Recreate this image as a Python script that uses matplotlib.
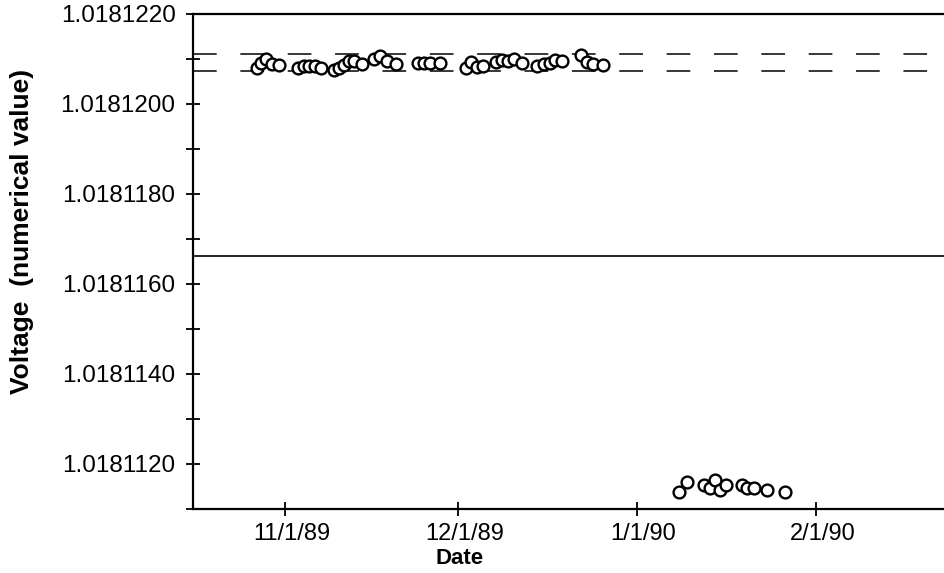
import numpy as np
import pandas as pd
import matplotlib
matplotlib.use("Agg")
import matplotlib.pyplot as plt
import matplotlib.transforms as mtransforms
from matplotlib.ticker import MultipleLocator, FormatStrFormatter

plt.rcParams['font.family'] = ['Liberation Sans', 'DejaVu Sans']

# readings before the jump (Oct-Dec 1989)
dates_1989 = ["1989-10-27 01:00", "1989-10-27 18:00", "1989-10-28 17:00", "1989-10-29 18:00",
              "1989-10-30 21:00", "1989-11-03 05:00", "1989-11-04 04:00", "1989-11-05 02:00",
              "1989-11-06 03:00", "1989-11-07 06:00", "1989-11-09 10:00", "1989-11-10 06:00",
              "1989-11-11 03:00", "1989-11-12 00:00", "1989-11-12 21:00", "1989-11-14 05:00",
              "1989-11-16 08:00", "1989-11-17 09:00", "1989-11-18 13:00", "1989-11-20 06:00",
              "1989-11-24 00:00", "1989-11-25 02:00", "1989-11-26 01:00", "1989-11-27 19:00",
              "1989-12-02 07:00", "1989-12-03 06:00", "1989-12-04 05:00", "1989-12-05 06:00",
              "1989-12-07 14:00", "1989-12-08 12:00", "1989-12-09 13:00", "1989-12-10 14:00",
              "1989-12-11 23:00", "1989-12-14 14:00", "1989-12-15 19:00", "1989-12-16 20:00",
              "1989-12-17 19:00", "1989-12-19 00:00", "1989-12-22 07:00", "1989-12-23 06:00",
              "1989-12-24 08:00", "1989-12-25 23:00"]
volts_1989 = [1.01812080, 1.01812091, 1.01812099, 1.01812088, 1.01812087, 1.01812080,
              1.01812084, 1.01812085, 1.01812084, 1.01812081, 1.01812076, 1.01812080,
              1.01812087, 1.01812095, 1.01812096, 1.01812089, 1.01812099, 1.01812106,
              1.01812096, 1.01812088, 1.01812092, 1.01812092, 1.01812092, 1.01812092,
              1.01812081, 1.01812093, 1.01812083, 1.01812084, 1.01812094, 1.01812098,
              1.01812096, 1.01812099, 1.01812091, 1.01812084, 1.01812088, 1.01812091,
              1.01812097, 1.01812096, 1.01812109, 1.01812094, 1.01812089, 1.01812087]

# readings after the jump (Jan 1990)
dates_1990 = ["1990-01-08 06:00", "1990-01-09 14:00", "1990-01-12 12:00", "1990-01-13 12:00",
              "1990-01-14 10:00", "1990-01-15 07:00", "1990-01-16 08:00", "1990-01-19 01:00",
              "1990-01-19 22:00", "1990-01-21 03:00", "1990-01-23 12:00", "1990-01-26 12:00"]
volts_1990 = [1.01811138, 1.01811160, 1.01811154, 1.01811147, 1.01811164, 1.01811142,
              1.01811153, 1.01811153, 1.01811147, 1.01811146, 1.01811143, 1.01811138]

band_upper = 1.0181211
band_lower = 1.01812074
ref_level = 1.01811662

tick_dates = ["1989-11-01", "1989-12-01", "1990-01-01", "1990-02-01"]
tick_labels = ["11/1/89", "12/1/89", "1/1/90", "2/1/90"]

x1 = pd.to_datetime(dates_1989)
x2 = pd.to_datetime(dates_1990)

fig = plt.figure(figsize=(9.45, 5.73), dpi=100)
ax = fig.add_axes([0.2042, 0.1117, 0.7958, 0.8639])

ax.axhline(band_upper, color="black", lw=1.1, dashes=(15.5, 15.5))
ax.axhline(band_lower, color="black", lw=1.1, dashes=(15.5, 15.5))
ax.axhline(ref_level, color="black", lw=1.2)

ax.plot(x1, volts_1989, "o", ms=8.5, mfc="white", mec="black", mew=1.7, ls="none")
ax.plot(x2, volts_1990, "o", ms=8.5, mfc="white", mec="black", mew=1.7, ls="none")

ax.set_xlim(pd.Timestamp("1989-10-16"), pd.Timestamp("1990-02-23 07:00"))
ax.set_ylim(1.0181110, 1.0181220)

ax.set_xticks(pd.to_datetime(tick_dates))
ax.set_xticklabels(tick_labels)
ax.yaxis.set_major_locator(MultipleLocator(2e-6))
ax.yaxis.set_minor_locator(MultipleLocator(1e-6))
ax.yaxis.set_major_formatter(FormatStrFormatter("%.7f"))

ax.tick_params(axis="both", which="both", direction="inout", length=10, width=1.3,
               labelsize=17.5)
ax.tick_params(axis="y", which="major", pad=7.5)
ax.tick_params(axis="x", which="major", pad=5, labelsize=17)

# date labels sit a little right of their ticks in the original
shift = mtransforms.ScaledTranslation(6 / 100, 0, fig.dpi_scale_trans)
for lbl in ax.get_xticklabels():
    lbl.set_transform(lbl.get_transform() + shift)

ax.spines["right"].set_visible(False)
for s in ["left", "bottom", "top"]:
    ax.spines[s].set_linewidth(1.6)

ax.set_xlabel("Date", fontsize=16, fontweight="bold")
ax.xaxis.set_label_coords(0.355, -0.079)
ax.set_ylabel("Voltage  (numerical value)", fontsize=19, fontweight="bold")
ax.yaxis.set_label_coords(-0.212, 0.56)

fig.savefig("out.png", dpi=100)
